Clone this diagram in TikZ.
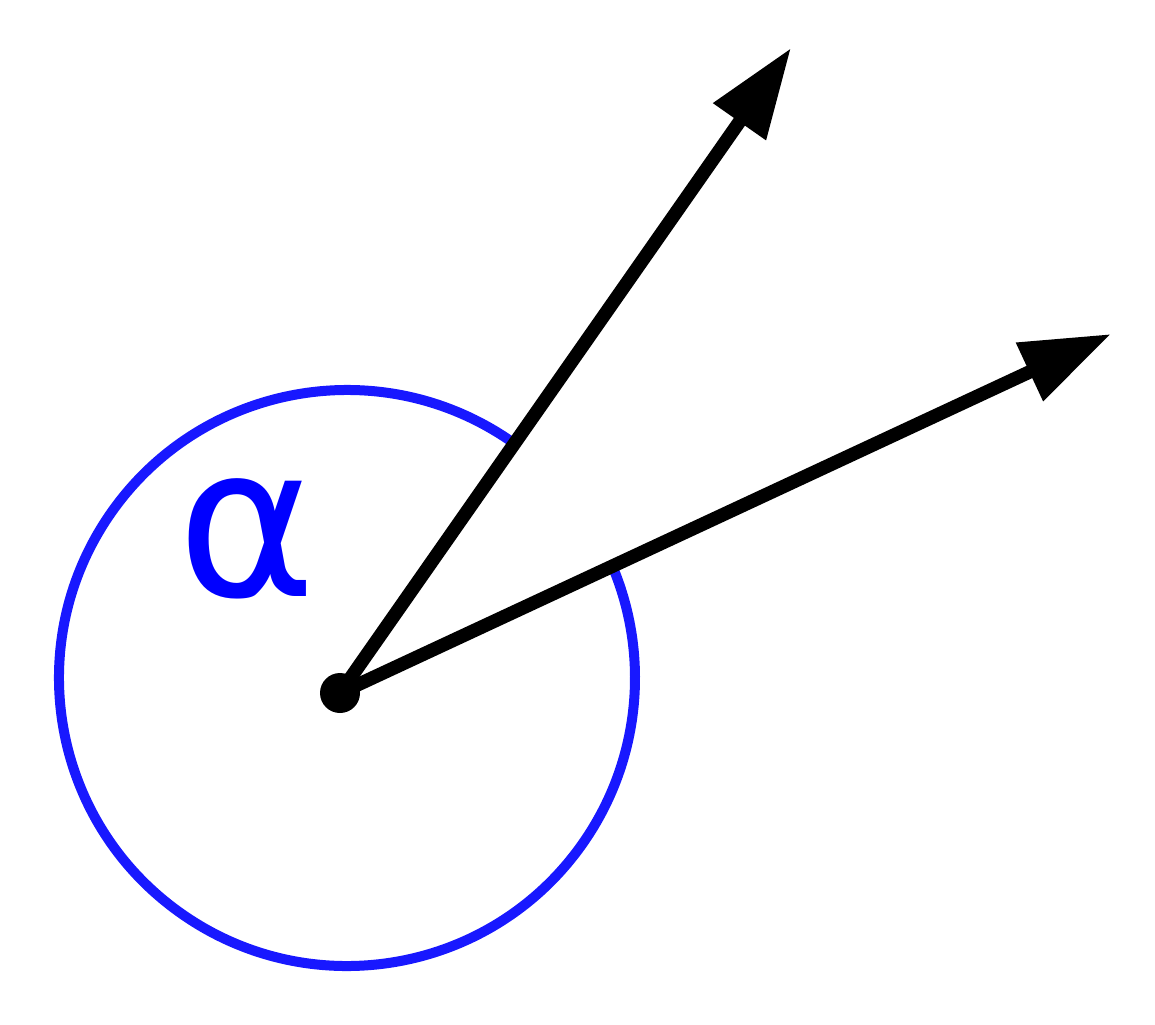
\documentclass[tikz,border=0pt]{standalone}
\usepackage{fontspec}
\newfontfamily\anglefont{DejaVu Sans}
\usetikzlibrary{arrows.meta, positioning}
\definecolor{arcblue}{RGB}{24,24,255}
\tikzstyle{vec} = [line width=1.35mm, -{Triangle[length=9mm, width=6.1mm]}]
\tikzstyle{dot} = [circle, fill=black, inner sep=0pt, minimum size=4mm]

\begin{document}
\begin{tikzpicture}[auto,>=latex]
      \useasboundingbox (0,0) rectangle (11.55,10.24);
      \node[dot] (O) at (3.40,3.31) {};
      \coordinate (A) at (7.91,9.76);
      \coordinate (B) at (11.11,6.90);
      \coordinate (C) at (3.47,3.46);
      \draw[arcblue, line width=1.0mm] ([shift={(55:2.88)}]C) arc[start angle=55, end angle=383, radius=2.88];
      \draw[vec] (O.center) -- (A);
      \draw[vec] (O.center) -- (B);
      \node[text=blue, font=\anglefont\fontsize{60}{60}\selectfont] (alpha) at (2.465,4.85) {α};
    \end{tikzpicture}
\end{document}
